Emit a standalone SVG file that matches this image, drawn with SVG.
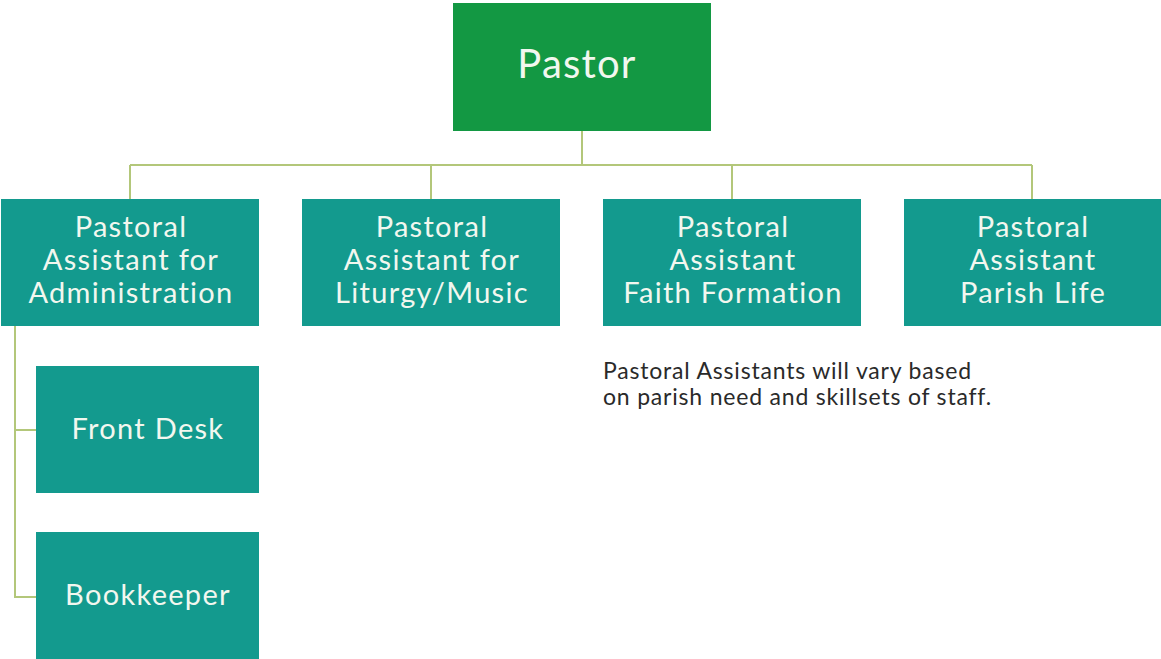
<svg xmlns="http://www.w3.org/2000/svg" width="1161" height="659" viewBox="0 0 1161 659">
<style>
.box{fill:#139a8e}
.top{fill:#139843}
.t{font-family:Lato,"Noto Sans",sans-serif;fill:#f2f7ef;text-anchor:middle;font-size:29px;letter-spacing:1.3px}
.big{font-size:40px;letter-spacing:1.2px}
.note{font-family:Lato,"Noto Sans",sans-serif;fill:#2a2a2a;font-size:23px;letter-spacing:0.8px}
.c{stroke:#b3c77a;stroke-width:2;fill:none}
</style>
<rect width="1161" height="659" fill="#ffffff"/>
<g id="connectors">
<path class="c" d="M582 131V165M130 165H1032M130 165V199M431 165V199M732 165V199M1032 165V199"/>
<path class="c" d="M15 326V597H36M15 430H36"/>
</g>
<g id="pastor"><rect class="top" x="453" y="3" width="258" height="128"/><text class="t big" x="577" y="78">Pastor</text></g>
<g id="admin"><rect class="box" x="1" y="199" width="258" height="127"/><text class="t" x="131" y="237">Pastoral</text><text class="t" x="131" y="270">Assistant for</text><text class="t" x="131" y="303">Administration</text></g>
<g id="liturgy"><rect class="box" x="302" y="199" width="258" height="127"/><text class="t" x="432" y="237">Pastoral</text><text class="t" x="432" y="270">Assistant for</text><text class="t" x="432" y="303">Liturgy/Music</text></g>
<g id="faith"><rect class="box" x="603" y="199" width="258" height="127"/><text class="t" x="733" y="237">Pastoral</text><text class="t" x="733" y="270">Assistant</text><text class="t" x="733" y="303">Faith Formation</text></g>
<g id="parish"><rect class="box" x="904" y="199" width="257" height="127"/><text class="t" x="1033" y="237">Pastoral</text><text class="t" x="1033" y="270">Assistant</text><text class="t" x="1033" y="303">Parish Life</text></g>
<g id="frontdesk"><rect class="box" x="36" y="366" width="223" height="127"/><text class="t" x="148" y="439">Front Desk</text></g>
<g id="bookkeeper"><rect class="box" x="36" y="532" width="223" height="127"/><text class="t" x="148" y="605">Bookkeeper</text></g>
<g id="note"><text class="note" x="603" y="379">Pastoral Assistants will vary based</text><text class="note" x="603" y="405">on parish need and skillsets of staff.</text></g>
</svg>
